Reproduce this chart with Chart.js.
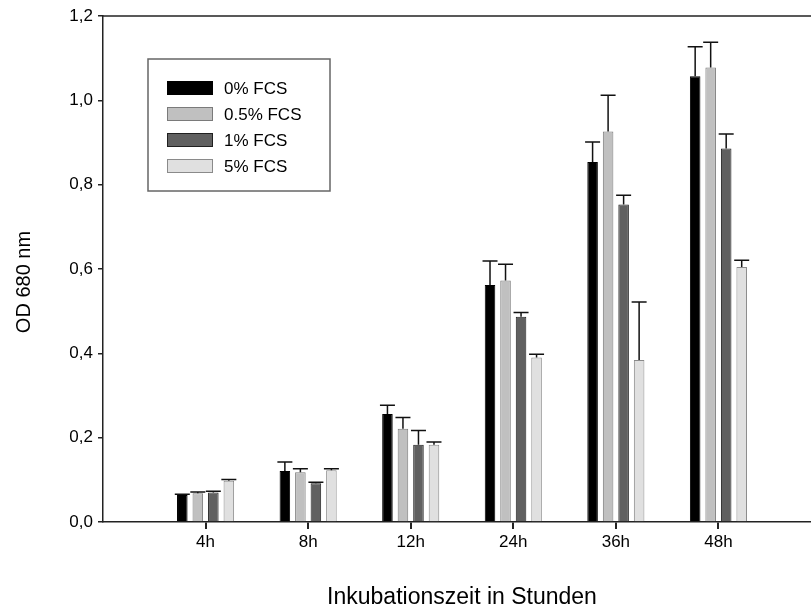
<!DOCTYPE html>
<html>
<head>
<meta charset="utf-8">
<script src="https://cdn.jsdelivr.net/npm/chart.js@4"></script>
<style>
    html, body { margin: 0; padding: 0; overflow: hidden; background: #fff; }
    #wrap { width: 832px; height: 612px; }
</style>
</head>
<body>
<div id="wrap"><canvas id="chart"></canvas></div>
<script>
// empty slots at both ends, the axis runs one step past 4h and 48h
const categories = ['', '4h', '8h', '12h', '24h', '36h', '48h', ''];
const seriesNames = ['0% FCS', '0.5% FCS', '1% FCS', '5% FCS'];

const fcs0 = [null, 0.064, 0.121, 0.256, 0.562, 0.854, 1.057, null];
const fcs05 = [null, 0.068, 0.118, 0.221, 0.573, 0.926, 1.078, null];
const fcs1 = [null, 0.070, 0.092, 0.183, 0.487, 0.753, 0.886, null];
const fcs5 = [null, 0.098, 0.123, 0.183, 0.390, 0.384, 0.605, null];

const err0 = [null, 0.002, 0.021, 0.021, 0.057, 0.047, 0.070, null];
const err05 = [null, 0.003, 0.008, 0.027, 0.038, 0.086, 0.060, null];
const err1 = [null, 0.003, 0.002, 0.034, 0.010, 0.022, 0.034, null];
const err5 = [null, 0.003, 0.003, 0.007, 0.008, 0.138, 0.016, null];

const yTicks = [0, 0.2, 0.4, 0.6, 0.8, 1.0, 1.2];

const FONT = 'Liberation Sans, Arial, Helvetica, sans-serif';

document.addEventListener('DOMContentLoaded', function() {
    initChart()
});

function makeSet(label, values, errors, fill, border) {
    return {
        label: label,
        data: values,
        errors: errors,
        backgroundColor: fill,
        borderColor: border,
        borderWidth: 1,
        categoryPercentage: 0.605,
        barPercentage: 0.68
    };
}

// upward error bars with a cap
const errorBars = {
    id: 'errorBars',
    afterDatasetsDraw(chart) {
        const ctx = chart.ctx;
        const y = chart.scales.y;
        ctx.save();
        ctx.strokeStyle = '#111';
        ctx.lineWidth = 1.5;
        chart.data.datasets.forEach(function(ds, i) {
            const meta = chart.getDatasetMeta(i);
            meta.data.forEach(function(bar, j) {
                const v = ds.data[j];
                const e = ds.errors[j];
                if (v == null || e == null) return;
                const top = y.getPixelForValue(v + e);
                ctx.beginPath();
                ctx.moveTo(bar.x, bar.y);
                ctx.lineTo(bar.x, top);
                ctx.moveTo(bar.x - 7.5, top);
                ctx.lineTo(bar.x + 7.5, top);
                ctx.stroke();
            });
        });
        ctx.restore();
    }
};

// top frame line and rotated y title
const frame = {
    id: 'frame',
    afterDraw(chart) {
        const a = chart.chartArea;
        const ctx = chart.ctx;
        ctx.save();
        ctx.strokeStyle = '#222';
        ctx.lineWidth = 1.5;
        ctx.beginPath();
        ctx.moveTo(a.left, a.top);
        ctx.lineTo(a.right, a.top);
        ctx.stroke();

        ctx.translate(24, 282);
        ctx.rotate(-Math.PI / 2);
        ctx.fillStyle = '#000';
        ctx.font = '20px ' + FONT;
        ctx.textAlign = 'center';
        ctx.textBaseline = 'middle';
        ctx.fillText('OD 680 nm', 0, 0);
        ctx.restore();
    }
};

// boxed legend inside the plot
const boxLegend = {
    id: 'boxLegend',
    afterDraw(chart) {
        const ctx = chart.ctx;
        const bx = 148, by = 59, bw = 182, bh = 132;
        ctx.save();
        ctx.fillStyle = '#fff';
        ctx.fillRect(bx, by, bw, bh);
        ctx.strokeStyle = '#666';
        ctx.lineWidth = 1.5;
        ctx.strokeRect(bx, by, bw, bh);
        ctx.font = '17px ' + FONT;
        ctx.textBaseline = 'middle';
        chart.data.datasets.forEach(function(ds, i) {
            const cy = 88 + i * 26;
            ctx.fillStyle = ds.backgroundColor;
            ctx.fillRect(167, cy - 7, 46, 14);
            ctx.strokeStyle = ds.borderColor;
            ctx.lineWidth = 1;
            ctx.strokeRect(167.5, cy - 6.5, 45, 13);
            ctx.fillStyle = '#000';
            ctx.fillText(ds.label, 224, cy + 1);
        });
        ctx.restore();
    }
};

function initChart() {
    let data = {
        labels: categories,
        datasets: [
            makeSet(seriesNames[0], fcs0, err0, '#000000', '#000000'),
            makeSet(seriesNames[1], fcs05, err05, '#c0c0c0', '#7a7a7a'),
            makeSet(seriesNames[2], fcs1, err1, '#606060', '#202020'),
            makeSet(seriesNames[3], fcs5, err5, '#e0e0e0', '#8a8a8a')
        ]
    };

    let options = {
        responsive: true,
        maintainAspectRatio: false,
        animation: false,
        layout: {
            padding: { top: 16, left: 0, right: 11, bottom: 0 }
        },
        plugins: {
            legend: { display: false },
            tooltip: { enabled: false }
        },
        scales: {
            y: {
                min: 0,
                max: 1.2,
                afterFit: function(scale) { scale.width = 103 },
                afterBuildTicks: function(scale) {
                    scale.ticks = yTicks.map(v => ({ value: v }))
                },
                border: { color: '#222', width: 1.5 },
                grid: {
                    drawOnChartArea: false,
                    color: '#222',
                    lineWidth: 1.5,
                    tickLength: 5
                },
                ticks: {
                    color: '#000',
                    padding: 5,
                    font: { size: 17, family: FONT },
                    callback: function(value) {
                        return value.toFixed(1).replace('.', ',');
                    }
                }
            },
            x: {
                offset: false,
                afterFit: function(scale) { scale.height = 90 },
                border: { color: '#222', width: 1.5 },
                grid: {
                    offset: false,
                    drawOnChartArea: false,
                    color: '#222',
                    lineWidth: 2,
                    tickLength: 7,
                    tickColor: function(c) {
                        return categories[c.index] ? '#222' : 'rgba(0,0,0,0)';
                    }
                },
                ticks: {
                    color: '#000',
                    padding: 3,
                    autoSkip: false,
                    maxRotation: 0,
                    font: { size: 17, family: FONT }
                },
                title: {
                    display: true,
                    text: 'Inkubationszeit in Stunden',
                    color: '#000',
                    padding: { top: 0, bottom: 1 },
                    font: { size: 23, family: FONT }
                }
            }
        }
    };

    let ctx = document.getElementById('chart').getContext('2d');
    const chart = new Chart(ctx, {
        type: 'bar',
        options: options,
        data: data,
        plugins: [errorBars, frame, boxLegend]
    });
}
</script>
</body>
</html>
